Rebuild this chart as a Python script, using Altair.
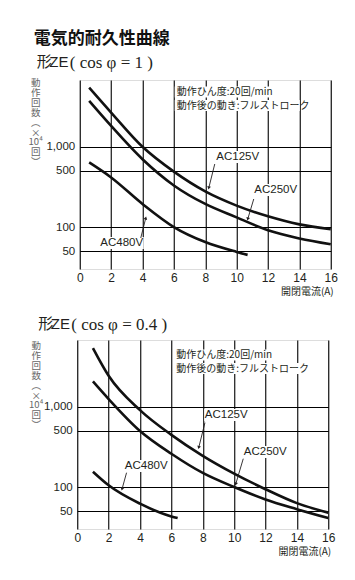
import altair as alt
import pandas as pd

# ---------------- data ----------------
x_top = [0.6, 2, 4, 6, 8, 10, 12, 14, 16]
top_125 = [5450, 2670, 1000, 490, 278, 185, 136, 108, 94]
top_250 = [3730, 1820, 700, 330, 194, 132, 91, 72, 61]
x_top_480 = [0.6, 2, 4, 6, 8, 10, 10.7]
top_480 = [638, 415, 194, 100, 65, 49, 45]

x_bot = [1, 2, 4, 6, 8, 10, 12, 14, 16]
bot_125 = [5400, 2440, 910, 447, 245, 147, 94, 63, 48]
bot_250 = [2070, 1250, 500, 260, 150, 100, 70, 53, 41]
x_bot_480 = [1, 2, 4, 6, 6.4]
bot_480 = [155, 105, 62, 43, 41]

series_names = ["AC125V", "AC250V", "AC480V"]
x_ticks = [0, 2, 4, 6, 8, 10, 12, 14, 16]
y_ticks = [50, 100, 500, 1000]
y_domain = [30, 6800]

main_title = "電気的耐久性曲線"
sub_titles = ["( cos φ = 1 )", "( cos φ = 0.4 )"]
note_lines = ["動作ひん度:20回/min", "動作後の動き:フルストローク"]
y_title_lines = ["動", "作", "回", "数", "︵", "×", "10⁴", "回", "︶"]
x_title = "開閉電流(A)"

JP = "Noto Sans CJK JP"
LAT = "Liberation Sans"
SERIF = "Liberation Serif"
INK = "#231f20"
W, H = 251, 189
ONE = pd.DataFrame({"k": [0]})


def const_text(x, y, text, **kw):
    return alt.Chart(ONE).mark_text(**kw).encode(
        x=alt.value(x), y=alt.value(y), text=alt.value(text))


def panel(series, sub, lab, arrows, note_xy, ytitle_xy, title_xy, with_main, extent):
    rows = []
    for name, xs, ys in series:
        for a, b in zip(xs, ys):
            rows.append({"series": name, "x": a, "y": b})
    df = pd.DataFrame(rows)

    X = alt.X("x:Q", scale=alt.Scale(domain=[0, 16], nice=False, zero=False),
              axis=alt.Axis(values=x_ticks, grid=True, ticks=False, domain=False,
                            labelFont=LAT, labelFontSize=12, labelColor=INK,
                            labelPadding=3, labelFlush=False, title=None,
                            gridColor="#000", gridWidth=1.1, gridOpacity=1))
    Y = alt.Y("y:Q", scale=alt.Scale(type="log", domain=y_domain, nice=False),
              axis=alt.Axis(values=y_ticks, format=",d", grid=True, ticks=False,
                            domain=False, labelFont=LAT, labelFontSize=11.5,
                            labelColor=INK, labelPadding=5, title=None,
                            gridColor="#000", gridWidth=1.1, gridOpacity=1))

    lines = alt.Chart(df).mark_line(color="#111", strokeWidth=2.6,
                                    interpolate="monotone").encode(
        x=X, y=Y, detail="series:N")

    layers = [lines]

    # invisible spacer that fixes the horizontal extent of this panel
    layers.append(alt.Chart(ONE).mark_rule(opacity=0).encode(
        x=alt.value(extent[0]), x2=alt.value(extent[1]), y=alt.value(H / 2)))

    # white boxes behind the note and the curve labels
    nx, ny = note_xy
    box = pd.DataFrame({
        "x1": [nx - 2, nx - 2] + [p[0] - 22 for p in lab],
        "x2": [nx + 101, nx + 123] + [p[0] + 22 for p in lab],
        "y1": [ny - 5.5, ny + 8] + [p[1] - 6 for p in lab],
        "y2": [ny + 5.5, ny + 19] + [p[1] + 6 for p in lab],
    })
    layers.append(alt.Chart(box).mark_rect(color="white").encode(
        x=alt.X("x1:Q", scale=None, axis=None), x2="x2:Q",
        y=alt.Y("y1:Q", scale=None, axis=None), y2="y2:Q"))

    # arrows
    ar = pd.DataFrame({"x1": [a[0] for a in arrows], "y1": [a[1] for a in arrows],
                       "x2": [a[2] for a in arrows], "y2": [a[3] for a in arrows],
                       "ang": [a[4] for a in arrows]})
    layers.append(alt.Chart(ar).mark_rule(color=INK, strokeWidth=0.9).encode(
        x=alt.X("x1:Q", scale=None, axis=None), x2="x2:Q",
        y=alt.Y("y1:Q", scale=None, axis=None), y2="y2:Q"))
    layers.append(alt.Chart(ar).mark_point(shape="triangle-up", filled=True,
                                           color=INK, size=14, opacity=1).encode(
        x=alt.X("x2:Q", scale=None, axis=None),
        y=alt.Y("y2:Q", scale=None, axis=None),
        angle=alt.Angle("ang:Q", scale=None)))

    # curve labels
    lb = pd.DataFrame({"t": series_names, "px": [p[0] for p in lab],
                       "py": [p[1] for p in lab]})
    layers.append(alt.Chart(lb).mark_text(font=LAT, fontSize=11.5, color=INK,
                                          align="center", baseline="middle").encode(
        x=alt.X("px:Q", scale=None, axis=None),
        y=alt.Y("py:Q", scale=None, axis=None), text="t:N"))

    # note
    nd = pd.DataFrame({"t": note_lines, "py": [ny, ny + 13.5]})
    layers.append(alt.Chart(nd).mark_text(font=JP, fontSize=10, color=INK,
                                          align="left", baseline="middle").encode(
        x=alt.value(nx), y=alt.Y("py:Q", scale=None, axis=None), text="t:N"))

    # axis titles
    layers.append(const_text(W + 3, H + 23, x_title, font=JP, fontSize=10,
                             color=INK, align="right", baseline="middle"))
    layers.append(const_text(ytitle_xy[0], ytitle_xy[1], y_title_lines, font=JP,
                             fontSize=9.5, color="#666", align="center",
                             baseline="top", lineHeight=9.9))

    # titles
    tx, ty = title_xy
    layers.append(const_text(tx, ty, "形", font=JP, fontSize=15, color=INK,
                             align="left", baseline="middle"))
    layers.append(const_text(tx + 12.5, ty, "ZE", font=LAT, fontSize=15, color=INK,
                             align="left", baseline="middle"))
    layers.append(const_text(tx + 33, ty + 1, sub, font=SERIF, fontSize=17,
                             color=INK, align="left", baseline="middle"))
    if with_main:
        layers.append(const_text(-46, -41, main_title, font=JP, fontSize=17,
                                 fontWeight="bold", color="#111", align="left",
                                 baseline="middle"))

    return alt.layer(*layers).properties(width=W, height=H)


top = panel(
    [("AC125V", x_top, top_125), ("AC250V", x_top, top_250),
     ("AC480V", x_top_480, top_480)],
    sub_titles[0],
    lab=[(158, 77), (196, 110), (42, 163)],
    arrows=[(135, 84, 129, 108, 193), (174, 119, 168, 139, 195), (61, 158, 66, 138, 15)],
    note_xy=(97, 12), ytitle_xy=(-44, -2), title_xy=(-43, -18), with_main=True,
    extent=(-52, W + 10))

bottom = panel(
    [("AC125V", x_bot, bot_125), ("AC250V", x_bot, bot_250),
     ("AC480V", x_bot_480, bot_480)],
    sub_titles[1],
    lab=[(149, 75), (188, 112), (69, 126)],
    arrows=[(127.7, 82.7, 121.5, 107.5, 194), (166, 118.7, 158.5, 144, 197), (49.3, 132.7, 44.8, 149, 195)],
    note_xy=(99, 15), ytitle_xy=(-41, 1), title_xy=(-39, -16), with_main=False,
    extent=(-47, W + 15))

chart = alt.vconcat(top, bottom, spacing=17, center=True).properties(
    padding={"left": 19, "top": 21, "right": 0, "bottom": 4}
).configure_view(stroke="#000", strokeWidth=1.3).configure(background="white")

chart.save("out.html", embed_options={"renderer": "svg", "actions": False})
